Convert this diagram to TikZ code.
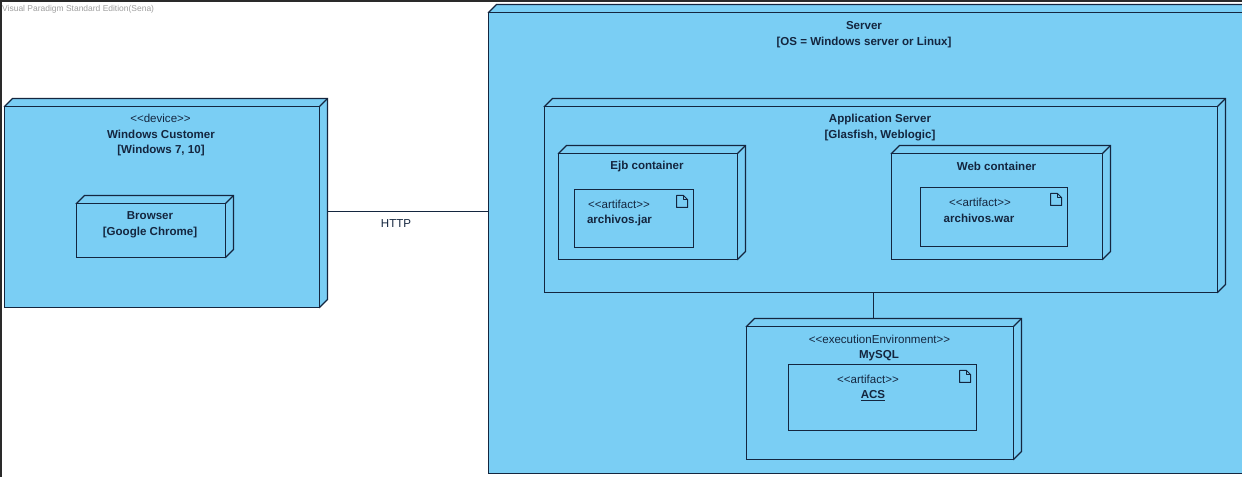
\documentclass[tikz,border=0pt]{standalone}
\usepackage{fontspec}
\setmainfont{Liberation Sans}
\definecolor{nodeblue}{HTML}{7ACEF4}
\definecolor{edge}{HTML}{14263F}
\definecolor{frameline}{HTML}{2A2A2A}
\tikzset{
  x=1bp,y=-1bp,
  shell/.style={inner sep=0pt,outer sep=0pt,anchor=north west,draw=none},
  face/.style={draw=edge,fill=nodeblue,line width=1.2bp,line join=miter},
  artbox/.style={draw=edge,fill=nodeblue,line width=1.2bp,inner sep=0pt,outer sep=0pt,anchor=north west},
  conn/.style={draw=edge,line width=1.1bp},
  lbl/.style={inner sep=0pt,text=edge,align=center,font=\fontsize{11.6}{13.5}\selectfont},
  lblb/.style={inner sep=0pt,text=edge,align=center,font=\fontsize{11.6}{16}\selectfont\bfseries},
  icon/.style={draw=edge,fill=nodeblue,line width=1bp,line join=round},
}
% name, x1,y1,x2,y2 (front face), depth
\newcommand{\depnode}[6]{%
  \path[face] (#2,#3) -- (#2+#6,#3-#6) -- (#4+#6,#3-#6) -- (#4+#6,#5-#6) -- (#4,#5) -- cycle;
  \draw[face] (#2,#3) rectangle (#4,#5);
  \draw[face,fill=none] (#4,#3) -- (#4+#6,#3-#6);
  \pgfmathsetlengthmacro{\shw}{#4-#2+#6}\pgfmathsetlengthmacro{\shh}{#5-#3+#6}%
  \node[shell,minimum width=\shw*1.00375,minimum height=\shh*1.00375] (#1) at (#2,#3-#6) {};%
}
\newcommand{\fileicon}[2]{%
  \draw[icon] (#1,#2) -- (#1+7,#2) -- (#1+11,#2+4) -- (#1+11,#2+12) -- (#1,#2+12) -- cycle;
  \draw[icon,fill=none] (#1+7,#2) -- (#1+7,#2+4) -- (#1+11,#2+4);
}
\begin{document}
\begin{tikzpicture}
\useasboundingbox (0,0) rectangle (1242,477);
\fill[white] (0,0) rectangle (1242,477);
% outer frame
\fill[frameline] (0,0) rectangle (1242,2);
\fill[frameline] (0,0) rectangle (2,477);
\node[anchor=west,inner sep=0pt,text=gray!75,font=\fontsize{8.5}{9}\selectfont] (wm) at (2,9.5) {Visual Paradigm Standard Edition(Sena)};
% Windows Customer
\depnode{win}{4.5}{106.5}{319.5}{307.5}{8}
\node[lbl] (winst) at (160.5,118.5) {<{}<device>{}>};
\node[lblb] (winlb) at (161,143) {Windows Customer\\{}[Windows 7, 10]};
\depnode{brw}{76.5}{203.5}{225.5}{257.5}{8}
\node[lblb] (brwlb) at (150,224.5) {Browser\\{}[Google Chrome]};
% Server
\depnode{srv}{488.5}{12.5}{1260.5}{473.5}{8}
\node[lblb] (srvlb) at (864,34.5) {Server\\{}[OS = Windows server or Linux]};
% Application server
\depnode{app}{544.5}{106.5}{1217.5}{292.5}{8}
\node[lblb] (applb) at (880,127.5) {Application Server\\{}[Glasfish, Weblogic]};
% Ejb
\depnode{ejb}{558.5}{153.5}{737.5}{259.5}{8}
\node[lblb] (ejblb) at (647,166.5) {Ejb container};
\node[artbox,minimum width=119bp,minimum height=58bp] (jar) at (574.5,189.5) {};
\fileicon{676.5}{195.5}
\node[lbl] (jarst) at (619,204.5) {<{}<artifact>{}>};
\node[lblb] (jarlb) at (619.5,220.5) {archivos.jar};
% Web
\depnode{web}{891.5}{153.5}{1102.5}{259.5}{8}
\node[lblb] (weblb) at (996.5,166.5) {Web container};
\node[artbox,minimum width=147bp,minimum height=59bp] (war) at (920.5,187.5) {};
\fileicon{1050.5}{193.5}
\node[lbl] (warst) at (980,202.5) {<{}<artifact>{}>};
\node[lblb] (warlb) at (979,218.5) {archivos.war};
% MySQL
\depnode{sql}{746.5}{326.5}{1013.5}{459.5}{8}
\node[lbl] (sqlst) at (879.5,339) {<{}<executionEnvironment>{}>};
\node[lblb] (sqllb) at (879,355.5) {MySQL};
\node[artbox,minimum width=188bp,minimum height=66bp] (acs) at (788.5,364.5) {};
\fileicon{959.5}{370.5}
\node[lbl] (acsst) at (868,379.5) {<{}<artifact>{}>};
\node[lblb] (acslb) at (873,395.5) {\underline{ACS}};
% connectors
\coordinate (httpy) at (400,211.5);
\coordinate (dbx) at (873.5,300);
\draw[conn] (win.east |- httpy) -- (srv.west |- httpy);
\draw[conn] (app.south -| dbx) -- (sql.north -| dbx);
\node[lbl] (http) at (396,224) {HTTP};
\end{tikzpicture}
\end{document}
